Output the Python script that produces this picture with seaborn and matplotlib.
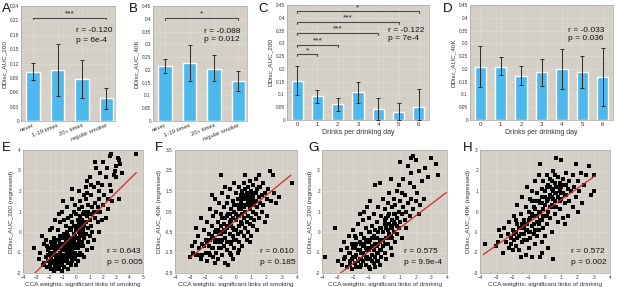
import numpy as np
import pandas as pd
import matplotlib.pyplot as plt
import seaborn as sns

# ---- bar panels (A-D) ----
smoke_cats = ['never', '1-19 times', '20+ times', 'regular smoker']
drink_cats = ['0', '1', '2', '3', '4', '5', '6']

a_mean = [0.102, 0.106, 0.087, 0.047]
a_low = [0.085, 0.052, 0.047, 0.026]
a_high = [0.122, 0.161, 0.127, 0.069]

b_mean = [0.216, 0.226, 0.205, 0.157]
b_low = [0.189, 0.158, 0.157, 0.118]
b_high = [0.242, 0.299, 0.258, 0.196]

c_mean = [0.154, 0.092, 0.062, 0.108, 0.045, 0.033, 0.050]
c_low = [0.096, 0.066, 0.036, 0.066, 0.0, 0.0, 0.0]
c_high = [0.213, 0.118, 0.086, 0.150, 0.088, 0.066, 0.121]

d_mean = [0.209, 0.209, 0.173, 0.186, 0.199, 0.187, 0.170]
d_low = [0.131, 0.177, 0.136, 0.135, 0.123, 0.127, 0.055]
d_high = [0.288, 0.245, 0.212, 0.238, 0.277, 0.251, 0.283]

# significance brackets: (from, to, height, stars)
a_sig = [(0, 3, 0.216, '***')]
b_sig = [(0, 3, 0.404, '*')]
c_sig = [(0, 1, 0.257, '*'), (0, 2, 0.293, '***'), (0, 4, 0.342, '***'),
         (0, 5, 0.384, '***'), (0, 6, 0.425, '*')]

a_stats = ('r = -0.120', 'p = 6e-4')
b_stats = ('r = -0.088', 'p = 0.012')
c_stats = ('r = -0.122', 'p = 7e-4')
d_stats = ('r = -0.033', 'p = 0.036')

# ---- scatter panels (E-H) ----
e_points = [
    (-3.2, -0.8), (-2.8, -1.3), (-2.6, -0.2), (-2.5, -1.6), (-2.7, -1.0), (-2.4, -0.6),
    (-2.3, -1.2), (-2.2, -1.7), (-2.1, -0.9), (-2.0, -1.4), (-2.3, -0.4), (-2.1, -1.1),
    (-2.4, -1.5), (-2.0, 0.1), (-2.2, -0.7), (-1.9, -1.8), (-2.0, -1.0),
    (-1.9, -1.3), (-1.8, -0.6), (-1.7, -1.5), (-1.6, -0.9), (-1.8, -1.1), (-1.7, -0.3),
    (-1.6, -1.7), (-1.5, -1.2), (-1.9, -0.8), (-1.6, -0.5), (-1.7, -1.9), (-1.5, -0.7),
    (-1.8, 0.2), (-1.5, -1.5), (-1.6, 0.6), (-1.7, -1.0),
    (-1.4, -1.3), (-1.3, -0.4), (-1.2, -1.0), (-1.4, -0.8), (-1.1, -1.6), (-1.3, -1.8),
    (-1.2, -0.2), (-1.0, -0.9), (-1.4, 0.1), (-1.1, -0.6), (-1.3, -1.1), (-1.0, -1.4),
    (-1.2, 0.5), (-1.1, 1.0), (-1.4, -1.6), (-1.0, -0.3), (-1.3, 0.9), (-1.2, -1.4),
    (-1.1, -1.9),
    (-0.9, -1.2), (-0.8, -0.5), (-0.7, -1.0), (-0.9, -0.1), (-0.6, -1.5), (-0.8, 0.3),
    (-0.7, -0.7), (-0.5, -1.1), (-0.9, -1.7), (-0.6, -0.2), (-0.8, -0.9), (-0.5, 0.2),
    (-0.7, 1.2), (-0.6, 0.7), (-0.9, 0.6), (-0.5, -0.6), (-0.8, -1.4), (-0.6, -1.8),
    (-0.7, 0.0), (-1.0, 1.5),
    (-0.4, -1.0), (-0.3, -0.4), (-0.2, -1.3), (-0.4, 0.1), (-0.1, -0.7), (-0.3, 0.5),
    (-0.2, -0.1), (-0.4, -1.6), (-0.1, 0.3), (-0.3, -0.9), (-0.2, 1.0), (-0.4, 0.8),
    (-0.1, -1.2), (-0.3, 1.6), (-0.2, -0.5), (0.0, -0.3), (-0.4, -0.5), (-0.1, 1.3),
    (0.0, -1.6), (-0.3, 2.1),
    (0.1, -0.8), (0.2, 0.0), (0.3, -0.5), (0.1, 0.6), (0.4, -1.1), (0.2, 1.1),
    (0.3, 0.4), (0.4, -0.2), (0.1, -1.4), (0.2, -0.4), (0.5, 0.9), (0.3, 1.5),
    (0.4, 0.2), (0.0, 0.9), (0.5, -0.7), (0.2, 2.0), (0.1, 0.2), (0.3, -1.0),
    (0.4, 1.2), (0.5, 0.1),
    (0.6, -0.3), (0.7, 0.5), (0.8, -0.9), (0.6, 1.0), (0.9, 0.2), (0.7, 1.6),
    (0.8, 0.8), (0.6, -1.2), (0.9, 1.3), (0.7, -0.1), (1.0, 2.7), (0.8, 2.5),
    (0.9, -0.5), (0.6, 0.3), (1.0, 0.6), (0.7, 2.2), (0.8, 1.9), (1.0, -0.2),
    (0.9, 1.0), (0.6, 1.8),
    (1.1, 0.3), (1.2, 1.2), (1.3, -0.4), (1.1, 1.8), (1.4, 0.7), (1.2, 0.0),
    (1.3, 2.2), (1.5, 3.1), (1.4, 1.4), (1.1, 0.9), (1.2, -0.8), (1.5, 1.0),
    (1.3, 1.0), (1.4, 3.4), (1.1, 2.3),
    (1.6, 0.5), (1.7, 1.6), (1.8, 1.0), (1.6, 2.4), (1.9, 2.3), (1.7, 0.0),
    (1.8, 2.9), (2.0, 1.3), (1.9, 0.6), (1.6, 1.2), (2.0, 3.4), (1.7, 2.0),
    (2.1, 1.8), (2.2, 2.7), (2.3, 3.1), (2.4, 1.1), (2.5, 3.7), (2.6, 3.8),
    (2.5, 2.3), (2.7, 1.5), (2.8, 2.8), (2.9, 3.0), (3.0, 3.2), (2.2, 0.7),
    (2.6, 2.0), (2.4, 1.6),
    (3.1, 3.6), (3.2, 3.5), (3.2, 1.6), (3.0, 2.7), (3.4, 2.9), (4.5, 3.8), (3.3, 3.3),
    # dense core
    (-2.0, -1.6), (-1.9, -1.0), (-1.8, -1.4), (-1.7, -0.7), (-1.6, -1.1), (-1.5, -1.8),
    (-1.5, -0.4), (-1.4, -1.1), (-1.3, -0.7), (-1.3, -1.5), (-1.2, -1.2), (-1.2, -0.6),
    (-1.1, -0.9), (-1.1, -1.3), (-1.0, -1.1), (-1.0, -0.6), (-0.9, -0.7), (-0.9, -1.4),
    (-0.8, -1.1), (-0.8, -0.2), (-0.7, -1.3), (-0.7, -0.4), (-0.6, -0.9), (-0.6, -1.2),
    (-0.5, -0.8), (-0.5, -1.5), (-0.4, -0.3), (-0.4, -1.2), (-0.3, -0.6), (-0.3, -1.4),
    (-0.2, -0.8), (-0.2, 0.3), (-0.1, -1.0), (-0.1, -0.2), (0.0, -0.6), (0.0, 0.1),
    (0.1, -1.1), (0.1, -0.3), (0.2, -0.7), (0.2, 0.4), (0.3, -0.2), (0.3, 0.8),
    (0.4, -0.5), (0.4, 0.6), (0.5, -0.1), (0.5, 0.4), (-1.6, -1.4), (-2.1, -1.4),
    (-1.9, -0.5), (-0.6, -0.5),
]

f_points = [
    (-3.0, -1.7), (-2.8, -1.5), (-2.7, -1.0), (-2.6, -1.6), (-2.5, -0.7), (-2.4, -1.3),
    (-2.3, -1.8), (-2.2, -1.1), (-2.1, -0.4), (-2.0, -1.5), (-2.2, -1.6), (-2.0, -0.9),
    (-1.9, -1.9), (-1.9, 0.0), (-1.8, -1.2), (-1.8, -0.6), (-1.7, -1.6), (-1.7, 0.6),
    (-1.6, -0.2), (-1.6, -1.3), (-1.5, -0.8), (-1.5, 0.3), (-1.5, -1.7), (-1.4, -1.0),
    (-1.4, 1.1), (-1.3, -0.4), (-1.3, -1.5), (-1.3, 0.5), (-1.2, -0.9), (-1.2, 0.0),
    (-1.2, -1.8), (-1.1, -0.6), (-1.1, 0.9), (-1.1, -1.3), (-1.0, 2.3), (-1.0, -0.2),
    (-1.0, -1.0), (-1.0, 0.4), (-0.9, -1.6), (-0.9, -0.5), (-0.9, 1.4), (-0.8, -0.1),
    (-0.8, -1.2), (-0.8, 0.7), (-0.7, -2.0), (-0.7, -0.8), (-0.7, 0.2), (-0.7, 1.7),
    (-0.6, -1.4), (-0.6, -0.3), (-0.6, 0.9), (-0.5, -1.0), (-0.5, 0.4), (-0.5, -2.1),
    (-0.5, 1.2), (-0.4, -0.6), (-0.4, -1.5), (-0.4, 0.0), (-0.4, 1.6), (-0.3, -1.1),
    (-0.3, 0.6), (-0.3, -0.2), (-0.2, -1.8), (-0.2, 0.2), (-0.2, 1.0), (-0.2, -0.7),
    (-0.1, -1.3), (-0.1, 0.5), (-0.1, 1.9), (-0.1, -0.4), (0.0, -0.9), (0.0, 0.8),
    (0.0, 0.1), (0.0, 1.4), (0.1, -0.6), (0.1, 1.1), (0.1, -1.5), (0.1, 0.3),
    (0.2, -0.2), (0.2, 1.7), (0.2, 0.6), (0.2, -1.0), (0.3, 0.0), (0.3, 1.3),
    (0.3, -0.5), (0.3, 0.9), (0.4, -1.2), (0.4, 0.4), (0.4, 1.5), (0.4, -0.1),
    (0.5, 0.7), (0.5, -0.7), (0.5, 1.9), (0.5, 0.2), (0.6, 1.1), (0.6, -0.3),
    (0.6, 2.3), (0.6, 0.5), (0.7, 1.4), (0.7, -0.9), (0.7, 0.8), (0.7, 0.0),
    (0.8, 1.7), (0.8, 0.3), (0.8, 1.0), (0.8, -0.5), (0.9, 1.3), (0.9, 0.6),
    (0.9, -0.1), (0.9, 2.0), (1.0, 0.9), (1.0, 1.5), (1.0, 0.2), (1.0, -0.7),
    (1.1, 1.2), (1.1, 0.5), (1.1, 1.8), (1.1, -0.2), (1.2, 0.8), (1.2, 1.4),
    (1.2, 0.1), (1.3, 1.0), (1.3, 2.1), (1.3, 0.4), (1.4, 1.6), (1.4, -0.4),
    (1.4, 0.7), (1.5, 2.3), (1.5, 1.2), (1.5, 0.2), (1.6, 0.9), (1.6, 1.7),
    (1.7, 1.3), (1.7, 0.5), (1.8, 1.9), (1.8, 0.8), (1.9, 1.4), (2.0, 1.1),
    (2.0, 0.3), (2.1, 1.6), (2.2, 2.5), (2.3, 1.0), (2.4, 2.3), (2.5, 1.4),
    (2.6, 0.9), (2.8, 1.2), (3.7, 1.9), (-2.6, -0.3), (-2.9, -1.2), (-2.3, 0.2),
    (-1.6, 1.3), (-1.4, -2.0), (-0.9, 0.2), (-0.3, -1.6), (0.2, -1.4), (0.9, -1.0),
    (1.9, 0.0),
    # dense core
    (-2.1, -1.2), (-1.9, -1.0), (-1.8, -1.5), (-1.7, -0.9), (-1.6, -0.7), (-1.5, -1.3),
    (-1.4, -0.5), (-1.3, -0.9), (-1.2, -0.4), (-1.1, -1.0), (-1.0, -0.6), (-0.9, -0.9),
    (-0.8, -0.4), (-0.8, 0.2), (-0.7, -0.5), (-0.6, 0.3), (-0.6, -1.0), (-0.5, -0.2),
    (-0.4, 0.4), (-0.4, -1.0), (-0.3, 0.1), (-0.2, -0.3), (-0.1, 0.8), (0.0, 0.4),
    (0.0, -0.4), (0.1, 0.8), (0.2, 0.3), (0.3, 0.6), (0.4, 0.8), (0.4, 1.1),
    (0.5, 1.3), (0.6, 0.8), (0.7, 1.1), (0.8, 1.3), (0.9, 0.8), (1.0, 1.1),
    (1.1, 1.4), (1.2, 1.0), (1.3, 1.4), (0.6, 1.6), (0.3, 1.1), (-0.1, -0.9),
    (-1.0, -1.3), (-2.4, -1.6), (1.5, 1.7),
]

g_points = [
    (-3.8, -1.2), (-3.2, 0.2), (-3.0, -1.4), (-2.8, -0.9), (-2.7, -1.6), (-2.6, -0.5),
    (-2.5, -1.2), (-2.4, -1.7), (-2.4, -0.8), (-2.3, -0.2), (-2.2, -1.4), (-2.2, -1.0),
    (-2.1, -1.8), (-2.1, -0.6), (-2.0, -1.2), (-2.0, 0.1), (-1.9, -1.5), (-1.9, -0.8),
    (-1.8, -1.1), (-1.8, -0.3), (-1.8, -1.7), (-1.7, -0.9), (-1.7, 0.4), (-1.6, -1.3),
    (-1.6, -0.5), (-1.5, -1.6), (-1.5, -0.1), (-1.5, -1.0), (-1.4, -0.7), (-1.4, 0.6),
    (-1.4, -1.4), (-1.3, -1.1), (-1.3, -0.3), (-1.3, 1.0), (-1.2, -0.8), (-1.2, -1.6),
    (-1.2, 0.2), (-1.1, -1.2), (-1.1, -0.5), (-1.1, 1.2), (-1.0, -0.9), (-1.0, 0.0),
    (-1.0, -1.7), (-1.0, 0.7), (-0.9, -0.4), (-0.9, -1.3), (-0.9, 1.5), (-0.8, -0.7),
    (-0.8, 0.3), (-0.8, -1.1), (-0.7, -0.2), (-0.7, -1.5), (-0.7, 0.9), (-0.6, -0.6),
    (-0.6, 2.3), (-0.6, 0.1), (-0.5, -1.0), (-0.5, 0.5), (-0.5, -0.3), (-0.4, -1.4),
    (-0.4, 1.2), (-0.4, -0.6), (-0.3, 2.4), (-0.3, 0.2), (-0.3, -0.9), (-0.2, 0.8),
    (-0.2, -0.4), (-0.2, -1.2), (-0.1, 0.0), (-0.1, 1.6), (-0.1, -0.7), (0.0, 0.4),
    (0.0, -1.0), (0.0, 1.1), (0.1, -0.3), (0.1, 0.7), (0.1, -1.3), (0.2, 0.1),
    (0.2, 1.4), (0.2, -0.6), (0.3, 0.9), (0.3, -0.1), (0.3, 1.9), (0.4, 2.6),
    (0.4, 0.3), (0.4, -0.8), (0.5, 1.2), (0.5, 0.6), (0.5, -0.3), (0.6, 1.6),
    (0.6, 0.0), (0.6, 0.9), (0.7, -0.5), (0.7, 1.3), (0.7, 0.4), (0.8, 2.0),
    (0.8, 0.7), (0.8, -0.1), (0.9, 2.3), (0.9, 1.0), (0.9, 0.2), (1.0, 3.4),
    (1.0, 1.5), (1.0, 0.5), (1.1, 0.9), (1.1, -0.3), (1.2, 2.6), (1.2, 1.2),
    (1.3, 0.6), (1.3, 1.8), (1.4, 0.2), (1.4, 1.0), (1.5, 3.2), (1.5, 1.4),
    (1.6, 0.8), (1.7, 3.6), (1.7, 2.9), (1.7, 1.6), (1.8, 3.7), (1.8, 1.1),
    (1.9, 2.2), (2.0, 3.5), (2.0, 1.5), (2.1, 1.9), (2.2, 3.0), (2.2, 0.9),
    (2.4, 2.5), (2.5, 1.6), (2.6, 3.1), (2.8, 2.7), (3.0, 3.6), (3.3, 3.3),
    (3.4, 2.8), (2.3, 1.3), (1.6, 2.4), (-1.6, 0.9), (-2.6, -1.3), (-0.9, -1.8),
    (0.5, -1.1), (1.1, 1.9), (-1.9, -0.2), (-0.6, -1.7),
    # dense core
    (-2.3, -1.0), (-2.2, -1.6), (-2.0, -0.8), (-1.9, -1.2), (-1.8, -0.6), (-1.7, -1.4),
    (-1.6, -0.9), (-1.5, -1.3), (-1.4, -1.0), (-1.3, -0.6), (-1.2, -1.3), (-1.2, -0.4),
    (-1.1, -0.9), (-1.0, -1.3), (-1.0, -0.5), (-0.9, -0.8), (-0.9, 0.0), (-0.8, -1.4),
    (-0.8, -0.3), (-0.7, -0.9), (-0.6, -1.2), (-0.6, -0.3), (-0.5, -0.7), (-0.4, -1.0),
    (-0.4, 0.0), (-0.3, -0.5), (-0.2, -0.9), (-0.2, 0.2), (-0.1, -0.4), (0.0, -0.6),
    (0.0, 0.6), (0.1, 0.2), (0.2, -0.3), (0.3, 0.4), (0.4, -0.2), (0.5, 0.2),
    (0.6, 0.5), (0.7, 0.9), (-1.5, -0.6), (-2.1, -1.3), (-0.3, -1.6), (0.2, 0.8),
    (-1.6, -1.7), (0.8, 0.3), (-0.5, -1.4),
]

h_points = [
    (-3.7, -1.6), (-3.0, -1.7), (-2.9, -1.5), (-2.7, -1.2), (-2.6, -2.0), (-2.5, -0.8),
    (-2.4, -1.5), (-2.3, -1.1), (-2.2, -1.8), (-2.2, -0.5), (-2.1, -1.3), (-2.0, -0.9),
    (-2.0, -1.9), (-1.9, -0.2), (-1.9, -1.4), (-1.8, -1.0), (-1.8, -1.7), (-1.7, -0.6),
    (-1.7, 0.3), (-1.6, -1.2), (-1.6, -1.9), (-1.5, -0.8), (-1.5, -0.1), (-1.4, -1.5),
    (-1.4, 0.7), (-1.3, -1.1), (-1.3, -0.4), (-1.2, -2.1), (-1.2, -0.9), (-1.2, 0.2),
    (-1.1, -1.4), (-1.1, -0.6), (-1.1, 1.2), (-1.0, -1.0), (-1.0, 0.0), (-1.0, -1.8),
    (-0.9, -0.3), (-0.9, 0.6), (-0.9, -1.3), (-0.8, -2.2), (-0.8, -0.7), (-0.8, 1.0),
    (-0.7, -1.1), (-0.7, 0.2), (-0.7, -0.2), (-0.6, -1.6), (-0.6, 0.5), (-0.6, 1.5),
    (-0.5, -0.5), (-0.5, -1.2), (-0.5, 0.9), (-0.4, 0.0), (-0.4, -0.9), (-0.4, 1.8),
    (-0.3, 2.3), (-0.3, -2.2), (-0.3, 0.4), (-0.3, -0.4), (-0.2, 1.1), (-0.2, -1.5),
    (-0.2, 0.7), (-0.1, -0.8), (-0.1, 0.1), (-0.1, 1.5), (0.0, -0.2), (0.0, 1.0),
    (0.0, -1.2), (0.1, 0.5), (0.1, 1.8), (0.1, -0.6), (0.2, 1.3), (0.2, 0.0),
    (0.2, -1.8), (0.3, 0.8), (0.3, 1.6), (0.3, -0.3), (0.4, 1.1), (0.4, 0.3),
    (0.4, -1.0), (0.5, 2.0), (0.5, -2.3), (0.5, 0.6), (0.6, 1.4), (0.6, -0.1),
    (0.6, 0.9), (0.7, 2.6), (0.7, 1.2), (0.7, 0.2), (0.8, 1.7), (0.8, -0.5),
    (0.8, 0.7), (0.9, 1.0), (0.9, 1.4), (0.9, 0.1), (1.0, 2.5), (1.0, 0.6),
    (1.0, 1.2), (1.1, 1.6), (1.1, -0.3), (1.1, 0.9), (1.2, 1.3), (1.2, 0.4),
    (1.3, 1.9), (1.3, 0.8), (1.4, 1.1), (1.4, -0.2), (1.5, 1.5), (1.5, 0.5),
    (1.6, 1.0), (1.7, 1.8), (1.7, 0.2), (1.8, 1.2), (1.9, 2.3), (1.9, 0.7),
    (2.0, 1.5), (2.1, 1.0), (2.2, 1.9), (2.3, 0.4), (2.4, 1.3), (2.5, 1.8),
    (2.7, 2.2), (2.8, 0.8), (3.0, 1.8), (3.0, 1.0), (-2.8, -0.9), (-1.5, -2.2),
    (-0.2, -2.0), (1.2, -0.6), (2.0, 0.0),
    # dense core
    (-2.1, -1.6), (-1.9, -1.1), (-1.8, -0.4), (-1.7, -1.3), (-1.6, -0.8), (-1.5, -1.1),
    (-1.4, -0.6), (-1.3, -1.4), (-1.2, -0.6), (-1.1, -0.9), (-1.0, -0.4), (-0.9, -1.0),
    (-0.8, -0.1), (-0.7, -0.6), (-0.6, -0.9), (-0.6, 0.1), (-0.5, -0.2), (-0.4, 0.5),
    (-0.4, -0.6), (-0.3, 0.0), (-0.2, -0.4), (-0.2, 0.4), (-0.1, -0.2), (0.0, 0.3),
    (0.0, 0.7), (0.1, -0.2), (0.1, 1.2), (0.2, 0.6), (0.3, 0.2), (0.3, 1.2),
    (0.4, 0.7), (0.5, 1.0), (0.5, 0.2), (0.6, 0.5), (0.7, 0.9), (0.8, 1.2),
    (0.9, 0.5), (1.0, 0.9), (1.1, 1.3), (1.2, 0.8), (1.3, 1.3), (0.4, 1.5),
    (-0.8, 0.5), (-1.3, -0.8), (0.6, 1.8),
]

# least-squares lines: (slope, intercept, x start, x end)
e_fit = (0.645, 0.0, -3.2, 4.5)
f_fit = (0.61, 0.08, -3.0, 3.6)
g_fit = (0.58, -0.37, -3.8, 3.95)
h_fit = (0.558, 0.02, -3.8, 3.1)

e_stats = ('r = 0.643', 'p = 0.005')
f_stats = ('r = 0.610', 'p = 0.185')
g_stats = ('r = 0.575', 'p = 9.9e-4')
h_stats = ('r = 0.572', 'p = 0.002')

# ---- style ----
sns.set_style('whitegrid', {
    'axes.facecolor': '#D4D0C8',
    'grid.color': '#E2DFD8',
    'axes.edgecolor': '#A8A59E',
})
plt.rcParams['font.family'] = ['Liberation Sans', 'DejaVu Sans']
plt.rcParams['grid.linewidth'] = 0.4
plt.rcParams['axes.linewidth'] = 0.5

bar_color = '#4DB8EC'
line_color = '#D22B2B'
tick_fs = 3.4
label_fs = 4.6

fig = plt.figure(figsize=(6.17, 2.87), dpi=100)


def px_axes(left, right, top, bottom):
    W, H = 617, 287
    return fig.add_axes([left / W, (H - bottom) / H, (right - left) / W, (bottom - top) / H])


def style_ticks(ax):
    ax.tick_params(axis='both', labelsize=tick_fs, length=0, pad=1.5, colors='#333333')


def bar_panel(ax, cats, mean, low, high, ymax, ystep, ylabel, xlabel, rotate, xmax):
    df = pd.DataFrame({'cat': cats, 'val': mean})
    sns.barplot(data=df, x='cat', y='val', color=bar_color, saturation=1,
                width=0.55, errorbar=None, ax=ax, zorder=2)
    x = np.arange(len(cats))
    yerr = [np.subtract(mean, low), np.subtract(high, mean)]
    ax.errorbar(x, mean, yerr=yerr, fmt='none', ecolor='#2b2b2b',
                elinewidth=0.7, capsize=1.4, capthick=0.7, zorder=3)
    ax.set_ylim(0, ymax)
    ax.set_xlim(-0.5, xmax)
    ticks = np.arange(0, ymax + 1e-9, ystep)
    ax.set_yticks(ticks)
    ax.set_yticklabels(['0'] + [f'{t:.2f}'.rstrip('0') if ystep == 0.05 else f'{t:.2f}' for t in ticks[1:]])
    ax.set_ylabel(ylabel, fontsize=label_fs, labelpad=2, color='#333333')
    ax.set_xlabel(xlabel, fontsize=label_fs + 0.4, labelpad=1.5, color='#333333')
    style_ticks(ax)
    if rotate:
        ax.tick_params(axis='x', labelsize=4.2)
        for lab in ax.get_xticklabels():
            lab.set_rotation(22)
            lab.set_ha('right')
            lab.set_rotation_mode('anchor')
    else:
        ax.tick_params(axis='x', labelsize=4.4)
    ax.grid(True, axis='both')


def add_brackets(ax, sigs, tick):
    for x0, x1, y, stars in sigs:
        ax.plot([x0, x0, x1, x1], [y - tick, y, y, y - tick], color='#4a4a4a', lw=0.8, zorder=3)
        ax.text((x0 + x1) / 2, y + tick * 0.2, stars, ha='center', va='bottom',
                fontsize=6, color='#222222')


def add_stats(ax, stats, x, y1, y2, transform=None):
    kw = dict(fontsize=6.0, ha='left', va='center', color='#111111')
    if transform is not None:
        kw['transform'] = transform
    ax.text(x, y1, stats[0], **kw)
    ax.text(x, y2, stats[1], **kw)


def scatter_panel(ax, points, fit, xlim, ylim, yticks, ylabel, xlabel, stats, sx):
    df = pd.DataFrame(points, columns=['cca', 'ddisc'])
    sns.scatterplot(data=df, x='cca', y='ddisc', ax=ax, color='black', marker='s',
                    s=5, linewidth=0, zorder=2)
    m, b, x0, x1 = fit
    xs = np.array([x0, x1])
    ax.plot(xs, m * xs + b, color=line_color, lw=0.9, zorder=3)
    ax.set_xlim(*xlim)
    ax.set_ylim(*ylim)
    ax.set_xticks(np.arange(xlim[0], xlim[1] + 0.5, 1))
    ax.set_yticks(yticks)
    ax.set_yticklabels([f'{t:g}' for t in yticks])
    ax.set_xlabel(xlabel, fontsize=label_fs, labelpad=1.5, color='#333333')
    ax.set_ylabel(ylabel, fontsize=label_fs, labelpad=2, color='#333333')
    style_ticks(ax)
    ax.grid(True, axis='both')
    add_stats(ax, stats, sx, 0.175, 0.085, transform=ax.transAxes)


# top row
ax_a = px_axes(21, 115, 6, 121)
bar_panel(ax_a, smoke_cats, a_mean, a_low, a_high, 0.24, 0.03, 'DDisc_AUC_200', '', True, 3.35)
add_brackets(ax_a, a_sig, 0.004)
add_stats(ax_a, a_stats, 1.75, 0.188, 0.169)

ax_b = px_axes(153, 247, 6, 121)
bar_panel(ax_b, smoke_cats, b_mean, b_low, b_high, 0.45, 0.05, 'DDisc_AUC_40K', '', True, 3.35)
add_brackets(ax_b, b_sig, 0.008)
add_stats(ax_b, b_stats, 1.6, 0.351, 0.318)

ax_c = px_axes(287, 429, 5, 120)
bar_panel(ax_c, drink_cats, c_mean, c_low, c_high, 0.45, 0.05, 'DDisc_AUC_200',
          'Drinks per drinking day', False, 6.5)
add_brackets(ax_c, c_sig, 0.008)
add_stats(ax_c, c_stats, 4.5, 0.349, 0.318)

ax_d = px_axes(470, 613, 5, 120)
bar_panel(ax_d, drink_cats, d_mean, d_low, d_high, 0.45, 0.05, 'DDisc_AUC_40K',
          'Drinks per drinking day', False, 6.5)
add_stats(ax_d, d_stats, 4.3, 0.350, 0.317)

# bottom row
ax_e = px_axes(23, 143, 150, 273)
scatter_panel(ax_e, e_points, e_fit, (-4, 5), (-2, 4), np.arange(-2, 4.5, 1),
              'DDisc_AUC_200 (regressed)', 'CCA weights: significant links of smoking', e_stats, 0.70)

ax_f = px_axes(175, 297, 150, 273)
scatter_panel(ax_f, f_points, f_fit, (-4, 4), (-2.5, 3.5), np.arange(-2.5, 3.6, 1),
              'DDisc_AUC_40K (regressed)', 'CCA weights: significant links of smoking', f_stats, 0.70)

ax_g = px_axes(322, 447, 150, 273)
scatter_panel(ax_g, g_points, g_fit, (-4, 4), (-2, 4), np.arange(-2, 4.5, 1),
              'DDisc_AUC_200 (regressed)', 'CCA weights: significant links of drinking', g_stats, 0.655)

ax_h = px_axes(480, 610, 150, 273)
scatter_panel(ax_h, h_points, h_fit, (-4, 4), (-3, 3), np.arange(-3, 3.5, 1),
              'DDisc_AUC_40K (regressed)', 'CCA weights: significant links of drinking', h_stats, 0.70)

# panel letters
letters = {'A': (2, 3), 'B': (129, 3), 'C': (258, 3), 'D': (443, 3),
           'E': (2, 142), 'F': (155, 142), 'G': (308, 142), 'H': (463, 142)}
for k, (lx, ly) in letters.items():
    fig.text(lx / 617, 1 - ly / 287, k, fontsize=9.5, va='top', ha='left', color='#111111')

fig.savefig('out.png', dpi=100)
